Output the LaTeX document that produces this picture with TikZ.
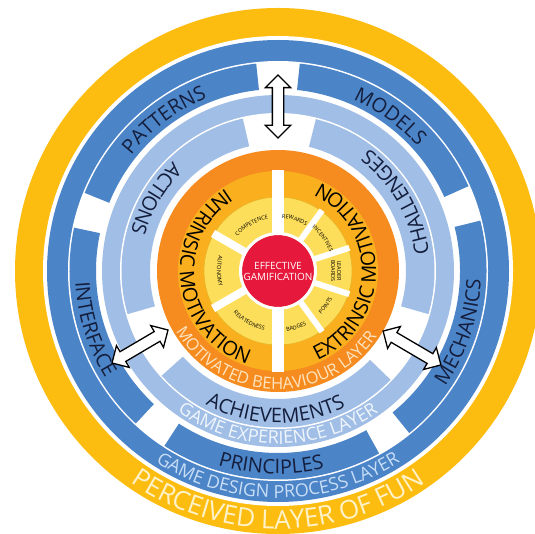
\documentclass[tikz,border=0pt]{standalone}
\usepackage{fontspec}
\setmainfont{Open Sans}
\usetikzlibrary{decorations.text,shapes.arrows}

\newcommand{\ringpart}[5]{\fill[#1] (#2:#5) arc[start angle=#2,end angle=#3,radius=#5] -- (#3:#4) arc[start angle=#3,end angle=#2,radius=#4] -- cycle;}
\newcommand{\arclabel}[5]{\path[decorate,decoration={text along path,text align=center,text={|#4|#5}}] (#2:#1) arc[start angle=#2,end angle=#3,radius=#1];}
\newcommand{\funsize}{\fontsize{26}{26}\selectfont}
\newcommand{\layersize}{\fontsize{18}{18}\selectfont}
\newcommand{\bandsize}{\fontsize{20}{20}\selectfont}
\newcommand{\needsize}{\fontsize{5.5}{6}\selectfont}

\begin{document}
\begin{tikzpicture}[x=1pt,y=1pt,
  twoway/.style={double arrow,draw=black,fill=white,line width=1.3pt,double arrow head extend=7pt,inner xsep=0pt,inner ysep=5pt}]

\definecolor{funyellow}{RGB}{253,189,16}
\definecolor{funcream}{RGB}{255,242,200}
\definecolor{designblue}{RGB}{76,132,200}
\definecolor{designpale}{RGB}{200,222,246}
\definecolor{experblue}{RGB}{160,190,230}
\definecolor{experpale}{RGB}{240,246,252}
\definecolor{behavorange}{RGB}{246,139,31}
\definecolor{behavpeach}{RGB}{254,228,192}
\definecolor{motivamber}{RGB}{250,176,30}
\definecolor{needyellow}{RGB}{253,222,90}
\definecolor{needline}{RGB}{232,180,40}
\definecolor{corered}{RGB}{230,25,60}
\definecolor{labelnavy}{RGB}{20,30,60}

\clip (0,0) rectangle (535,533);
\fill[white] (0,0) rectangle (535,533);

\coordinate (O) at (278,262);

\begin{scope}[shift={(O)}]
\fill[funyellow] (0,0) circle [radius=263];
\fill[white] (0,0) circle [radius=235];
\fill[designblue] (0,0) circle [radius=231];
\fill[white] (0,0) circle [radius=210];
\ringpart{designblue}{24}{84}{182}{208.5}
\ringpart{designblue}{96}{158}{182}{208.5}
\ringpart{designblue}{168}{227}{182}{208.5}
\ringpart{designblue}{237}{299}{182}{208.5}
\ringpart{designblue}{309}{374}{182}{208.5}

\fill[experblue] (0,0) circle [radius=176];
\fill[white] (0,0) circle [radius=158];
\ringpart{experblue}{103}{196}{128}{156.5}
\ringpart{experblue}{222}{316}{128}{156.5}
\ringpart{experblue}{344}{436}{128}{156.5}

\fill[behavorange] (0,0) circle [radius=121];
\fill[motivamber] (0,0) circle [radius=100];
\fill[needyellow,draw=needline,line width=0.6pt] (0,0) circle [radius=74];
\draw[white,line width=12] (90:30) -- (90:101);
\draw[white,line width=12] (270:30) -- (270:101);
\foreach \a in {150,210} \draw[white,line width=8] (\a:30) -- (\a:75);
\foreach \a in {54,18,-18,-54} \draw[white,line width=6] (\a:30) -- (\a:75);
\fill[corered] (0,0) circle [radius=36];
\draw[white,line width=3] (0,0) circle [radius=37.5];

\arclabel{258}{215}{325}{\funsize\color{funcream}}{PERCEIVED LAYER OF FUN}
\arclabel{227}{220}{320}{\layersize\color{designpale}}{GAME DESIGN PROCESS LAYER}
\arclabel{203}{237}{299}{\bandsize\color{labelnavy}}{PRINCIPLES}
\arclabel{203}{309}{374}{\bandsize\color{labelnavy}}{MECHANICS}
\arclabel{203}{168}{227}{\bandsize\color{labelnavy}}{INTERFACE}
\arclabel{187}{158}{96}{\bandsize\color{labelnavy}}{PATTERNS}
\arclabel{187}{84}{24}{\bandsize\color{labelnavy}}{MODELS}

\arclabel{173}{215}{325}{\layersize\color{experpale}}{GAME EXPERIENCE LAYER}
\arclabel{152}{222}{316}{\bandsize\color{labelnavy}}{ACHIEVEMENTS}
\arclabel{152}{103}{196}{\bandsize\color{labelnavy}}{ACTIONS}
\arclabel{152}{344}{436}{\bandsize\color{labelnavy}}{CHALLENGES}

\arclabel{118.5}{189}{348}{\fontsize{16.5}{16.5}\selectfont\color{behavpeach}}{MOTIVATED BEHAVIOUR LAYER}
\arclabel{98}{102}{272}{\bandsize\color{black}}{INTRINSIC MOTIVATION}
\arclabel{98}{274}{444}{\bandsize\color{black}}{EXTRINSIC MOTIVATION}

\arclabel{53}{148}{92}{\needsize}{COMPETENCE}
\arclabel{61}{152}{208}{\needsize}{AUTONOMY}
\arclabel{61}{212}{268}{\needsize}{RELATEDNESS}
\arclabel{53}{88}{56}{\needsize}{REWARDS}
\arclabel{55}{52}{20}{\needsize}{INCENTIVES}
\arclabel{61}{270}{306}{\needsize}{BADGES}
\arclabel{61}{306}{342}{\needsize}{POINTS}
\node[rotate=-90,align=center,font=\needsize,inner sep=0pt] (boards) at (0:58) {LEADER\\BOARDS};

\node[align=center,text=white,font=\fontsize{10}{11}\selectfont] (core) at (0,0) {EFFECTIVE\\GAMIFICATION};
\end{scope}

\node[twoway,rotate=90,minimum height=63] (toparrow) at (278,426.5) {};
\node[twoway,rotate=30.5,minimum height=65] (leftarrow) at (140,186.5) {};
\node[twoway,rotate=-30.4,minimum height=67] (rightarrow) at (412,185) {};

\end{tikzpicture}
\end{document}
